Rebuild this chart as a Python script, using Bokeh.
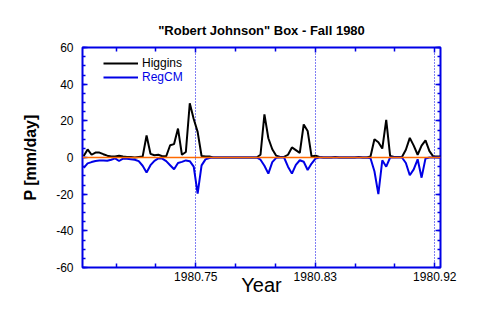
import numpy as np
from bokeh.plotting import figure
from bokeh.models import (Range1d, LinearAxis, FixedTicker, SingleIntervalTicker,
                          NumeralTickFormatter, Span, Legend, LegendItem,
                          CustomLabelingPolicy)
from bokeh.embed import file_html
from bokeh.resources import INLINE

# ---------------- data (daily values, Fall 1980) ----------------
day = list(range(92))
start_year = 1980.67183          # fractional year of the first day

higgins = [0.8, 4.4, 1.5, 2.7, 2.7, 1.8, 1.0, 0.5, 0.5, 1.0,
           0.5, 0.3, 0.3, 0.0, 0.3, 0.5, 12.0, 2.0, 1.2, 1.5,
           0.7, 0.7, 6.7, 7.3, 15.8, 1.5, 3.0, 29.6, 21.0, 14.0,
           0.8, 0.5, 0.5, 0.0, 0.0, 0.0, 0.0, 0.0, 0.0, 0.0,
           0.0, 0.0, 0.0, 0.0, 0.0, 1.5, 23.5, 10.5, 4.5, 1.0,
           0.3, 0.3, 1.5, 5.5, 4.0, 2.5, 18.0, 14.5, 0.5, 1.0,
           0.3, 0.0, 0.0, 0.0, 0.3, 0.0, 0.0, 0.0, 0.0, 0.0,
           0.3, 0.0, 0.0, 0.5, 10.0, 8.3, 4.9, 20.5, 0.8, 0.3,
           0.3, 0.3, 4.2, 10.7, 6.5, 1.5, 6.5, 9.3, 3.5, 0.5,
           0.5, 0.5]

# RegCM precipitation (plotted mirrored below zero)
regcm = [5.7, 3.2, 2.5, 1.9, 1.7, 1.7, 1.8, 1.2, 0.5, 1.9,
         0.6, 0.7, 0.9, 1.2, 2.0, 4.5, 8.2, 4.2, 1.8, 0.5,
         0.6, 2.0, 4.2, 6.4, 3.0, 2.4, 1.6, 2.0, 5.0, 19.7,
         4.3, 1.0, 0.3, 0.0, 0.0, 0.0, 0.0, 0.0, 0.0, 0.0,
         0.0, 0.0, 0.0, 0.0, 0.0, 1.2, 4.5, 8.8, 2.5, 0.2,
         0.0, 0.0, 5.0, 8.8, 4.0, 1.5, 2.3, 6.8, 3.3, 0.6,
         0.0, 0.0, 0.0, 0.0, 0.0, 0.0, 0.0, 0.0, 0.0, 0.0,
         0.0, 0.0, 0.0, 0.4, 7.5, 20.0, 1.5, 5.0, 0.0, 0.0,
         0.0, 0.0, 3.0, 9.7, 6.5, 1.0, 11.0, 0.5, 0.0, 0.0,
         0.0, 0.0]

x_major_ticks = [1980.75, 1980.8333333, 1980.9166667]
x_minor_ticks = [1980.6944444, 1980.7222222, 1980.7777778, 1980.8055556,
                 1980.8611111, 1980.8888889]

x = np.array(start_year) + np.array(day) / 365.0
h = np.array(higgins)
r = -np.array(regcm)

BLUE = "#0000e6"
FONT = "Liberation Sans"

p = figure(width=478, height=319, output_backend="svg", toolbar_location=None,
           x_range=Range1d(1980.67099, 1980.92064), y_range=Range1d(-60, 60),
           min_border_left=82, min_border_right=38, min_border_top=47,
           min_border_bottom=52, title='"Robert Johnson" Box - Fall 1980')

bottom = p.below[0]
left = p.left[0]

p.title.text_font = FONT
p.title.text_font_size = "13px"
p.title.text_font_style = "bold"
p.title.text_color = "black"
p.title.align = "center"
p.title.standoff = 11

p.outline_line_color = BLUE
p.outline_line_width = 2
p.background_fill_color = "white"
p.border_fill_color = "white"

xt = FixedTicker(ticks=x_major_ticks, minor_ticks=x_minor_ticks)
yt = SingleIntervalTicker(interval=20, num_minor_ticks=4)

bottom.ticker = xt
bottom.formatter = NumeralTickFormatter(format="0.00")
left.ticker = yt

top = LinearAxis(ticker=xt)
right = LinearAxis(ticker=yt)
p.add_layout(top, "above")
p.add_layout(right, "right")

for ax in [bottom, left, top, right]:
    ax.axis_line_color = None
    ax.major_tick_out = 0
    ax.minor_tick_out = 0
    ax.major_tick_in = 5
    ax.minor_tick_in = 3
    ax.major_tick_line_color = BLUE
    ax.minor_tick_line_color = BLUE
    ax.major_tick_line_width = 1.5
    ax.minor_tick_line_width = 1.5
    ax.major_label_text_font = FONT
    ax.major_label_text_font_size = "12px"
    ax.major_label_text_color = "black"

for ax in [bottom, top]:
    ax.minor_tick_in = 4

no_labels = CustomLabelingPolicy(code="""
for (const i of Array.from(indices)) { indices.unset(i) }
return indices
""")
for ax in [top, right]:
    ax.major_label_policy = no_labels
    ax.major_label_text_font_size = "1px"
    ax.major_label_standoff = 0

bottom.major_label_standoff = 4
left.major_label_standoff = 9
left.major_label_overrides = {-60: "-60", -40: "-40", -20: "-20"}

bottom.axis_label = "Year"
bottom.axis_label_text_font = FONT
bottom.axis_label_text_font_size = "20px"
bottom.axis_label_text_font_style = "normal"
bottom.axis_label_text_color = "black"
bottom.axis_label_standoff = -10

left.axis_label = "P [mm/day]"
left.axis_label_text_font = FONT
left.axis_label_text_font_size = "16px"
left.axis_label_text_font_style = "bold"
left.axis_label_text_color = "black"
left.axis_label_standoff = 14

p.xgrid.ticker = xt
p.xgrid.grid_line_color = BLUE
p.xgrid.grid_line_dash = "1 2"
p.xgrid.grid_line_width = 1
p.ygrid.grid_line_color = None

r1 = p.line(x, h, line_color="black", line_width=2)
r2 = p.line(x, r, line_color=BLUE, line_width=2)

zero = Span(location=0, dimension="width", line_color="#ff6a00", line_width=1.5)
p.add_layout(zero)

def make_legend(item, loc, color):
    lg = Legend(items=[item], location=loc)
    lg.background_fill_alpha = 0
    lg.border_line_alpha = 0
    lg.padding = 0
    lg.margin = 0
    lg.spacing = 0
    lg.glyph_width = 35
    lg.glyph_height = 14
    lg.label_height = 14
    lg.label_standoff = 4
    lg.label_text_font = FONT
    lg.label_text_font_size = "12px"
    lg.label_text_color = color
    return lg

p.add_layout(make_legend(LegendItem(label="Higgins", renderers=[r1]), (21, 197), "black"))
p.add_layout(make_legend(LegendItem(label="RegCM", renderers=[r2]), (21, 183), BLUE))

open("out.html", "w").write(file_html(p, INLINE))
